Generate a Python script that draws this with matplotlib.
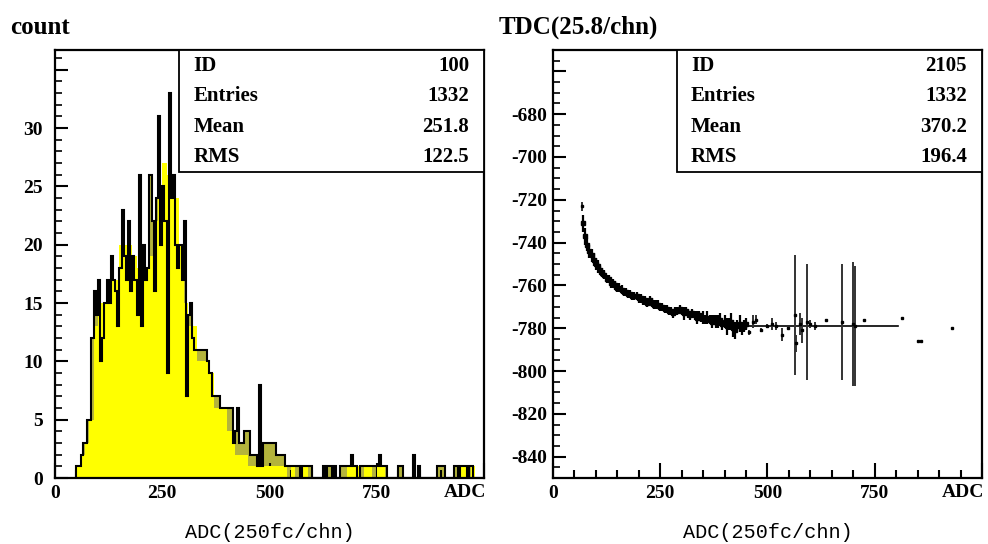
import numpy as np
import matplotlib
matplotlib.use("Agg")
import matplotlib.pyplot as plt
from matplotlib.patches import Rectangle
from matplotlib.ticker import MultipleLocator, FuncFormatter

plt.rcParams["axes.unicode_minus"] = False

# ---- left panel: ADC spectrum ----
yel_start, yel_width = 50, 10
adc_yellow = [1, 2, 3, 5, 13, 15, 15, 16, 17, 17,
              20, 20, 20, 19, 18, 17, 18, 19, 22, 25,
              27, 26, 26, 24, 20, 15, 13, 13, 10, 10,
              10, 9, 6, 6, 6, 4, 4, 2, 2, 2,
              1, 1, 1, 1, 1, 1, 1, 1, 1, 0,
              1, 0, 1, 1, 0, 0, 0, 0, 0, 0,
              0, 0, 0, 1, 1, 1, 0, 1, 1, 0,
              1, 1, 0, 0, 0, 0, 0, 0, 0, 0,
              0, 0, 0, 0, 0, 0, 0, 0, 0, 1,
              1, 0, 1, 0, 0]

blk_start, blk_width = 50, 5
adc_black = [1, 1, 2, 3, 3, 5, 5, 12, 16, 14,
             17, 10, 12, 15, 17, 15, 19, 17, 16, 13,
             18, 23, 19, 17, 22, 16, 19, 17, 14, 26,
             13, 20, 17, 18, 26, 22, 16, 24, 31, 20,
             25, 22, 9, 33, 24, 26, 20, 18, 20, 17,
             22, 7, 14, 15, 12, 11, 11, 11, 11, 11,
             11, 10, 9, 7, 7, 7, 7, 6, 6, 6,
             6, 6, 6, 3, 4, 6, 3, 3, 4, 4,
             4, 2, 2, 2, 1, 8, 1, 3, 3, 3,
             3, 3, 3, 2, 2, 2, 2, 1, 1, 1,
             1, 1, 1, 1, 0, 1, 1, 1, 1, 1,
             0, 0, 0, 0, 0, 1, 0, 1, 1, 0,
             1, 0, 0, 1, 1, 1, 1, 1, 2, 1,
             1, 0, 1, 1, 1, 1, 1, 1, 1, 1,
             1, 2, 1, 1, 1, 0, 0, 0, 0, 0,
             1, 1, 0, 0, 0, 0, 0, 2, 0, 1,
             0, 0, 0, 0, 0, 0, 0, 0, 1, 1,
             1, 1, 0, 0, 0, 0, 1, 1, 0, 1,
             1, 1, 0, 1, 1, 0, 0, 0, 0, 0]

stats_left = [("ID", "100"), ("Entries", "1332"), ("Mean", "251.8"), ("RMS", "122.5")]

# ---- right panel: TDC vs ADC profile ----
tdc_x = [70, 75, 80, 85, 90, 95, 100, 105, 110, 115,
         120, 125, 130, 135, 140, 145, 150, 155, 160, 165,
         170, 175, 180, 185, 190, 195, 200, 205, 210, 215,
         220, 225, 230, 235, 240, 245, 250, 255, 260, 265,
         270, 275, 280, 285, 290, 295, 300, 305, 310, 315,
         320, 325, 330, 335, 340, 345, 350, 355, 360, 365,
         370, 375, 380, 385, 390, 395, 400, 405, 410, 415,
         420, 425, 430, 435, 440, 445, 450]
tdc_y = [-731, -737, -741, -744, -746, -748, -750, -751, -753, -754,
         -755, -757, -757, -759, -759, -760, -761, -761, -762, -763,
         -763, -764, -764, -765, -765, -765, -766, -766, -767, -767,
         -768, -767, -768, -769, -769, -769, -770, -770, -771, -771,
         -772, -772, -773, -772, -772, -771, -772, -773, -772, -773,
         -774, -773, -774, -775, -774, -775, -775, -776, -775, -776,
         -777, -776, -777, -777, -776, -778, -777, -779, -778, -777,
         -780, -781, -779, -778, -780, -779, -778]
tdc_err = [4, 4, 3, 3, 3, 3, 3, 3, 2, 2,
           2, 2, 2, 2, 2, 2, 2, 2, 2, 2,
           2, 2, 2, 2, 2, 2, 2, 2, 2, 2,
           2, 2, 2, 2, 2, 2, 2, 2, 2, 2,
           2, 2, 2, 2, 2, 2, 2, 3, 2, 2,
           2, 2, 2, 3, 2, 2, 3, 2, 3, 2,
           3, 2, 3, 3, 3, 3, 3, 4, 3, 4,
           4, 4, 3, 4, 3, 3, 3]

# sparse high-ADC bins
sp_x = [68, 458, 466, 473, 486, 498, 510, 520, 535, 548, 563, 567, 575, 580, 593,
        600, 610, 637, 674, 700, 703, 725, 814, 850, 858, 930]
sp_y = [-723, -782, -777, -776, -781, -779, -778, -779, -783, -780, -774, -787,
        -778, -781, -777, -778, -779, -776, -777, -778, -779, -776, -775, -786,
        -786, -780]
sp_err = [2, 1, 3, 2, 1, 1, 3, 2, 3, 1, 28, 4, 5, 6, 27, 2, 2, 0, 27, 29, 28,
          0, 0, 0, 0, 0]

flat_x = [435, 805]
flat_y = [-779, -779]

stats_right = [("ID", "2105"), ("Entries", "1332"), ("Mean", "370.2"), ("RMS", "196.4")]

serif = "Liberation Serif"
mono = "Liberation Mono"

fig = plt.figure(figsize=(9.88, 5.44), dpi=100)
ax1 = fig.add_axes([0.0557, 0.1213, 0.4342, 0.7868])
ax2 = fig.add_axes([0.5597, 0.1213, 0.4342, 0.7868])


def style(ax, ymajor, yminor, ylab_max, ypad):
    ax.set_xlim(0, 1000)
    for s in ax.spines.values():
        s.set_linewidth(1.6)
    ax.xaxis.set_major_locator(MultipleLocator(250))
    ax.xaxis.set_minor_locator(MultipleLocator(50))
    ax.yaxis.set_major_locator(MultipleLocator(ymajor))
    ax.yaxis.set_minor_locator(MultipleLocator(yminor))
    ax.yaxis.set_major_formatter(FuncFormatter(
        lambda v, p: "" if v > ylab_max + 1e-6 else "%d" % round(v)))
    ax.xaxis.set_major_formatter(FuncFormatter(
        lambda v, p: "" if v > 800 else "%d" % round(v)))
    ax.tick_params(axis="both", which="both", direction="in", top=False, right=False)
    ax.tick_params(axis="x", which="major", length=11, width=1.5, pad=5)
    ax.tick_params(axis="x", which="minor", length=6, width=1.5)
    ax.tick_params(axis="y", which="major", length=9, width=1.5, pad=ypad)
    ax.tick_params(axis="y", which="minor", length=5, width=1.2)
    for lab in ax.get_xticklabels() + ax.get_yticklabels():
        lab.set_fontfamily(serif)
        lab.set_fontweight("bold")
        lab.set_fontsize(14)
    ax.text(1.005, -0.013, "ADC", transform=ax.transAxes, ha="right", va="top",
            fontfamily=serif, fontweight="bold", fontsize=14)
    ax.set_xlabel("ADC(250fc/chn)", fontfamily=mono, fontsize=14.5, labelpad=15)


def statbox(ax, rows):
    ax.add_patch(Rectangle((0.288, 0.715), 0.712, 0.285, transform=ax.transAxes,
                           facecolor="white", edgecolor="black", lw=1.3, zorder=5))
    ys = [0.963, 0.892, 0.821, 0.750]
    for (k, v), y in zip(rows, ys):
        ax.text(0.322, y, k, transform=ax.transAxes, ha="left", va="center",
                fontfamily=serif, fontweight="bold", fontsize=15, zorder=6)
        ax.text(0.965, y, v, transform=ax.transAxes, ha="right", va="center",
                fontfamily=serif, fontweight="bold", fontsize=15, zorder=6)


# left
edges_y = np.arange(len(adc_yellow) + 1) * yel_width + yel_start
edges_b = np.arange(len(adc_black) + 1) * blk_width + blk_start
ax1.stairs(adc_black, edges_b, fill=True, color="#b4b43c", zorder=1)
ax1.stairs(adc_yellow, edges_y, fill=True, color="#ffff00", zorder=2)
ax1.stairs(adc_black, edges_b, color="black", lw=1.5, zorder=3)
ax1.set_ylim(0, 36.7)
style(ax1, 5, 1, 30, 9)
statbox(ax1, stats_left)
fig.text(0.010, 0.938, "count", fontfamily=serif, fontweight="bold", fontsize=18)

# right
ax2.plot(flat_x, flat_y, color="black", lw=1.2, zorder=2)
ax2.errorbar(tdc_x, tdc_y, yerr=tdc_err, fmt="s", ms=2.5, color="black",
             ecolor="black", elinewidth=1.6, capsize=0, zorder=3)
ax2.errorbar(sp_x, sp_y, yerr=sp_err, fmt="s", ms=1.5, color="black",
             ecolor="#333333", elinewidth=1.4, capsize=0, zorder=3)
ax2.set_ylim(-850, -650)
style(ax2, 20, 5, -680, 4)
statbox(ax2, stats_right)
fig.text(0.505, 0.938, "TDC(25.8/chn)", fontfamily=serif, fontweight="bold", fontsize=18)

fig.savefig("out.png", dpi=100)
